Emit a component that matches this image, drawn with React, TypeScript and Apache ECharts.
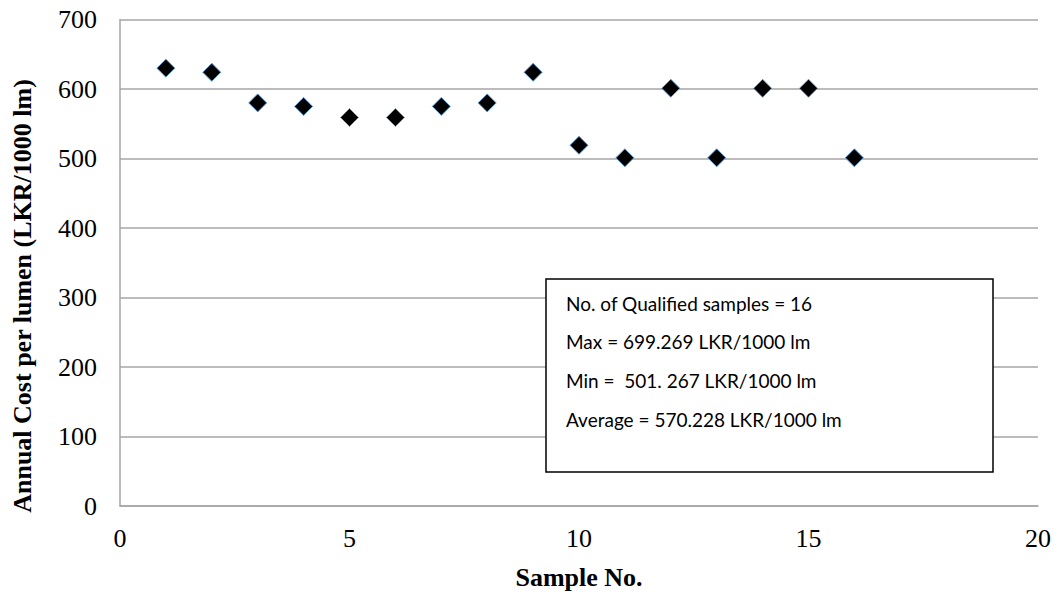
import React, { useEffect, useRef } from "react";
import * as echarts from "echarts";

const sampleNo = [1, 2, 3, 4, 5, 6, 7, 8, 9, 10, 11, 12, 13, 14, 15, 16];
const annualCost = [630, 624, 580, 575, 559, 559, 575, 580, 624, 519, 501, 601, 501, 601, 601, 501];
const boxLines = [
  "No. of Qualified samples = 16",
  "Max = 699.269 LKR/1000 lm",
  "Min =  501. 267 LKR/1000 lm",
  "Average = 570.228 LKR/1000 lm",
];
const yTitle = "Annual Cost per lumen (LKR/1000 lm)";

export default function App() {
  const ref = useRef<HTMLDivElement>(null);
  useEffect(() => {
    if (!ref.current) return;
    const chart = echarts.init(ref.current, null, { renderer: "svg" });
    const serif = "Liberation Serif";
    const gray = "#a6a6a6";
    chart.setOption({
      animation: false,
      backgroundColor: "#ffffff",
      grid: { left: 120, right: 22, top: 19.5, bottom: 87, containLabel: false },
      xAxis: {
        type: "value",
        min: 0,
        max: 20,
        interval: 5,
        name: "Sample No.",
        nameLocation: "middle",
        nameGap: 58,
        nameTextStyle: { fontFamily: serif, fontWeight: "bold", fontSize: 26, color: "#000" },
        axisLine: { show: true, lineStyle: { color: gray, width: 1.5 } },
        axisTick: { show: false },
        splitLine: { show: false },
        axisLabel: { fontFamily: serif, fontSize: 26, color: "#000", margin: 19 },
      },
      yAxis: {
        type: "value",
        min: 0,
        max: 700,
        interval: 100,
        axisLine: { show: true, lineStyle: { color: gray, width: 1.5 } },
        axisTick: { show: false },
        splitLine: { show: true, lineStyle: { color: gray, width: 1.5 } },
        axisLabel: { fontFamily: serif, fontSize: 26, color: "#000", margin: 23 },
      },
      series: [
        {
          type: "scatter",
          data: sampleNo.map((x, i) => [x, annualCost[i]]),
          symbol: "diamond",
          symbolSize: 18,
          itemStyle: { color: "#000000", borderColor: "#5b9bd5", borderWidth: 1, opacity: 1 },
        },
      ],
      graphic: [
        {
          type: "text",
          x: 22,
          y: 296,
          rotation: Math.PI / 2,
          style: {
            text: yTitle,
            fontFamily: serif,
            fontWeight: "bold",
            fontSize: 26,
            fill: "#000",
            align: "center",
            verticalAlign: "middle",
          },
        },
        {
          type: "rect",
          shape: { x: 546, y: 279, width: 447, height: 193 },
          style: { fill: "#ffffff", stroke: "#000000", lineWidth: 1.5 },
          z: 10,
        },
        ...boxLines.map((t, i) => ({
          type: "text",
          x: 566,
          y: 303 + i * 38.7,
          style: {
            text: t,
            fontFamily: "Lato",
            fontSize: 19,
            fill: "#000",
            verticalAlign: "middle",
          },
          z: 11,
        })),
      ],
    });
    return () => chart.dispose();
  }, []);
  return <div ref={ref} style={{ width: 1060, height: 595, position: "absolute", left: 0, top: 0 }} />;
}
